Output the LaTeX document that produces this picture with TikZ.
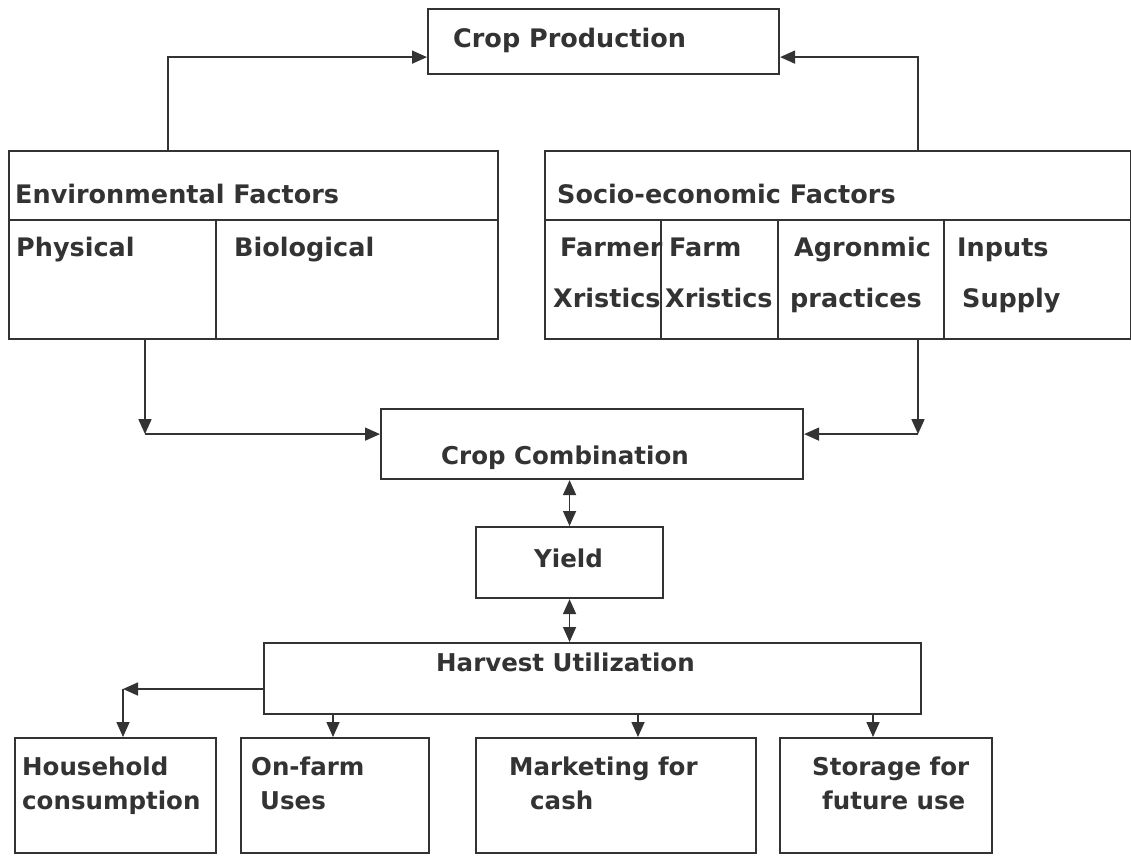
\documentclass[tikz,border=0pt]{standalone}
\usepackage{fontspec}
\setmainfont{DejaVu Sans}
\usetikzlibrary{arrows.meta,calc}
\definecolor{ink}{HTML}{333333}
\begin{document}
\begin{tikzpicture}[x=1pt,y=-1pt,
  box/.style={draw=ink, line width=2.1pt, rectangle, inner sep=0pt, anchor=north west},
  lbl/.style={anchor=base west, inner sep=0pt, text=ink, font=\fontsize{25.5}{30}\selectfont\bfseries},
  lbls/.style={lbl, font=\fontsize{24.5}{29}\selectfont\bfseries},
  div/.style={draw=ink, line width=2.1pt},
  conn/.style={draw=ink, line width=1.6pt, -{Triangle[length=15pt,width=13pt]}},
  dconn/.style={draw=ink, line width=1.6pt, {Triangle[length=15pt,width=13pt]}-{Triangle[length=15pt,width=13pt]}}]
\useasboundingbox[fill=white] (0,0) rectangle (1131,857);

% boxes
\node[box, minimum width=351pt, minimum height=65pt] (prod) at (427,8) {};
\node[box, minimum width=489pt, minimum height=188pt] (env) at (8,150) {};
\node[box, minimum width=586pt, minimum height=188pt] (soc) at (544,150) {};
\node[box, minimum width=422pt, minimum height=70pt] (comb) at (380,408) {};
\node[box, minimum width=187pt, minimum height=71pt] (yield) at (475,526) {};
\node[box, minimum width=657pt, minimum height=71pt] (harv) at (263,642) {};
\node[box, minimum width=201pt, minimum height=115pt] (hh) at (14,737) {};
\node[box, minimum width=188pt, minimum height=115pt] (onf) at (240,737) {};
\node[box, minimum width=280pt, minimum height=115pt] (mkt) at (475,737) {};
\node[box, minimum width=212pt, minimum height=115pt] (sto) at (779,737) {};

% dividers
\draw[div] (8,220) -- (497,220);
\draw[div] (216,220) -- (216,338);
\draw[div] (544,220) -- (1130,220);
\draw[div] (661,220) -- (661,338);
\draw[div] (778,220) -- (778,338);
\draw[div] (944,220) -- (944,338);

% texts
\node[lbl] (tprod) at (453,47) {Crop Production};
\node[lbl] (tenv) at (15,203) {Environmental Factors};
\node[lbl] (tphy) at (16,256) {Physical};
\node[lbl] (tbio) at (234,256) {Biological};
\node[lbl] (tsoc) at (557,203) {Socio-economic Factors};
\node[lbl] (tf1) at (560,256) {Farmer};
\node[lbl] (tf2) at (553,307) {Xristics};
\node[lbl] (tfa1) at (669,256) {Farm};
\node[lbl] (tfa2) at (665,307) {Xristics};
\node[lbl] (tag1) at (794,256) {Agronmic};
\node[lbl] (tag2) at (790,307) {practices};
\node[lbl] (tin1) at (957,256) {Inputs};
\node[lbl] (tin2) at (962,307) {Supply};
\node[lbls] (tcomb) at (441,464) {Crop Combination};
\node[lbls] (tyield) at (534,567) {Yield};
\node[lbls] (tharv) at (436,671) {Harvest Utilization};
\node[lbls] (thh1) at (22,775) {Household};
\node[lbls] (thh2) at (22,809) {consumption};
\node[lbls] (ton1) at (251,775) {On-farm};
\node[lbls] (ton2) at (260,809) {Uses};
\node[lbls] (tmk1) at (509,775) {Marketing for};
\node[lbls] (tmk2) at (530,809) {cash};
\node[lbls] (tst1) at (812,775) {Storage for};
\node[lbls] (tst2) at (822,809) {future use};

% connectors
\coordinate (envup) at ($(env.north west)+(160,0)$);
\draw[conn] (envup) |- ($(prod.south west)+(0,-18)$);
\coordinate (socup) at ($(soc.north west)+(374,0)$);
\draw[conn] (socup) |- ($(prod.south east)+(0,-18)$);

\coordinate (envdn) at ($(env.south west)+(137,0)$);
\coordinate (envc) at ($(envdn)+(0,94)$);
\draw[conn] (envdn) -- (envc);
\draw[conn] (envc) -- (comb.west |- envc);
\coordinate (socdn) at ($(soc.south west)+(374,0)$);
\coordinate (socc) at ($(socdn)+(0,94)$);
\draw[conn] (socdn) -- (socc);
\draw[conn] (socc) -- (comb.east |- socc);

\draw[dconn] (yield.north |- comb.south) -- (yield.north);
\draw[dconn] (yield.south) -- (yield.south |- harv.north);

\coordinate (hl) at ($(harv.north west)+(0,47)$);
\coordinate (hc) at ($(hl)+(-140,0)$);
\draw[conn] (hl) -- (hc);
\draw[conn] (hc) -- (hc |- hh.north);

\coordinate (a1) at ($(harv.south west)+(70,0)$);
\draw[conn] (a1) -- (a1 |- onf.north);
\coordinate (a2) at ($(harv.south west)+(375,0)$);
\draw[conn] (a2) -- (a2 |- mkt.north);
\coordinate (a3) at ($(harv.south west)+(610,0)$);
\draw[conn] (a3) -- (a3 |- sto.north);
\end{tikzpicture}
\end{document}
